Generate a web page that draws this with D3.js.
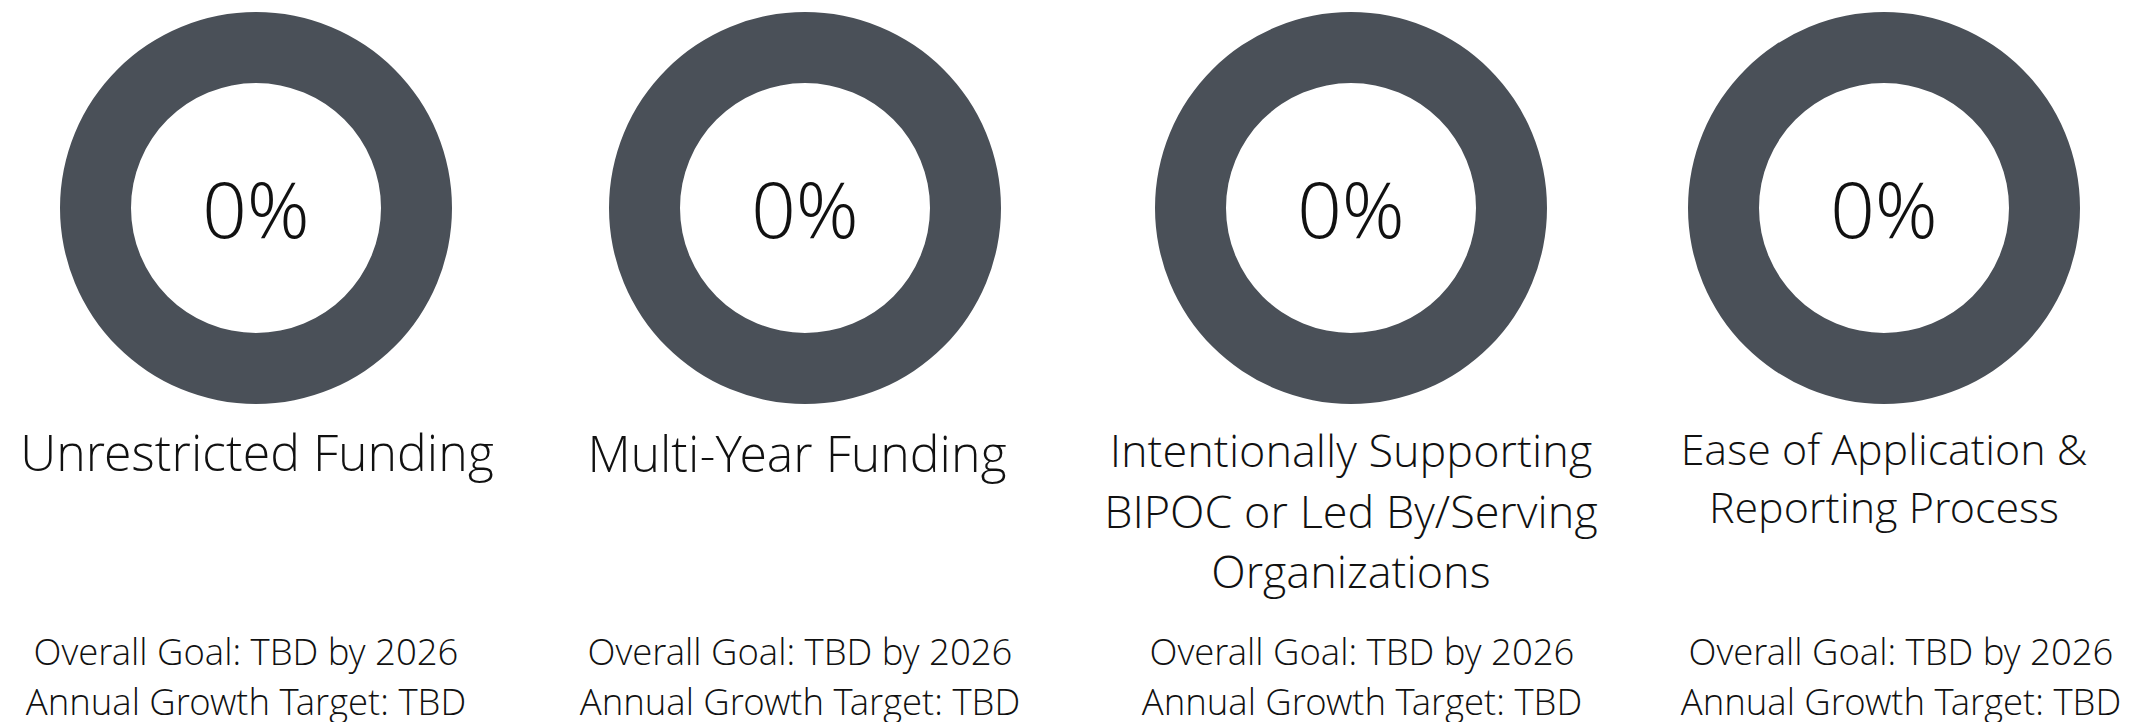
<!DOCTYPE html>
<meta charset="utf-8">

<!-- LOAD d3.js -->
<script src="https://d3js.org/d3.v7.min.js"></script>

<style>
  body { margin: 0; background: #fff; }
  text { font-family: "Open Sans Light", "Open Sans", sans-serif; font-weight: 300; fill: #111; }
</style>

<!-- create div for graphs -->
<div id="goals"></div>

<script>
  // data
  var categories = ["Unrestricted Funding", "Multi-Year Funding",
    "Intentionally Supporting BIPOC or Led By/Serving Organizations",
    "Ease of Application & Reporting Process"];
  var titleLines = [
    ["Unrestricted Funding"],
    ["Multi-Year Funding"],
    ["Intentionally Supporting", "BIPOC or Led By/Serving", "Organizations"],
    ["Ease of Application &", "Reporting Process"]
  ];
  var values = [0, 0, 0, 0];            // percent achieved
  var overallGoals = ["TBD", "TBD", "TBD", "TBD"];
  var goalYears = [2026, 2026, 2026, 2026];
  var growthTargets = ["TBD", "TBD", "TBD", "TBD"];

  // layout (not data)
  var width = 2142, height = 722;
  var donutX = [256, 805, 1351, 1884],
      titleX = [257, 797, 1351, 1884],
      goalX  = [246, 800, 1362, 1901],
      titleSize = [50, 50, 45, 43],
      titleTop = [471, 472, 467, 465],
      titleStep = [0, 0, 60.5, 58];
  var cy = 208, outerR = 196, innerR = 125;

  var svg = d3.select("#goals")
    .append("svg")
      .attr("width", width)
      .attr("height", height);

  var x = d3.scaleOrdinal().domain(categories).range(donutX);
  var xTitle = d3.scaleOrdinal().domain(categories).range(titleX);
  var xGoal = d3.scaleOrdinal().domain(categories).range(goalX);

  var pie = d3.pie().sort(null);
  var arc = d3.arc().innerRadius(innerR).outerRadius(outerR);
  var color = d3.scaleOrdinal().domain(["done", "left"]).range(["#2f8f9d", "#4a5058"]);

  var cols = svg.selectAll("g.col")
    .data(categories)
    .enter()
    .append("g")
      .attr("class", "col");

  // donuts
  cols.each(function(c, i){
    var g = d3.select(this).append("g")
      .attr("transform", "translate(" + x(c) + "," + cy + ")");
    g.selectAll("path")
      .data(pie([values[i], 100 - values[i]]))
      .enter()
      .append("path")
        .attr("d", arc)
        .style("fill", function(d, j){ return color(j == 0 ? "done" : "left"); });
  });

  // percent in the middle
  cols.append("text")
    .attr("x", function(c){ return x(c); })
    .attr("y", cy + 30)
    .attr("text-anchor", "middle")
    .style("font-size", "78px")
    .text(function(c, i){ return values[i] + "%"; });

  // titles
  cols.each(function(c, i){
    d3.select(this).selectAll("text.title")
      .data(titleLines[i])
      .enter()
      .append("text")
        .attr("class", "title")
        .attr("x", xTitle(c))
        .attr("y", function(d, k){ return titleTop[i] + k * titleStep[i]; })
        .attr("text-anchor", "middle")
        .style("font-size", titleSize[i] + "px")
        .text(function(d){ return d; });
  });

  // goal lines
  cols.append("text")
    .attr("x", function(c){ return xGoal(c); })
    .attr("y", 665)
    .attr("text-anchor", "middle")
    .style("font-size", "36.5px")
    .text(function(c, i){ return "Overall Goal: " + overallGoals[i] + " by " + goalYears[i]; });

  cols.append("text")
    .attr("x", function(c){ return xGoal(c); })
    .attr("y", 715)
    .attr("text-anchor", "middle")
    .style("font-size", "36.5px")
    .text(function(c, i){ return "Annual Growth Target: " + growthTargets[i]; });
</script>
